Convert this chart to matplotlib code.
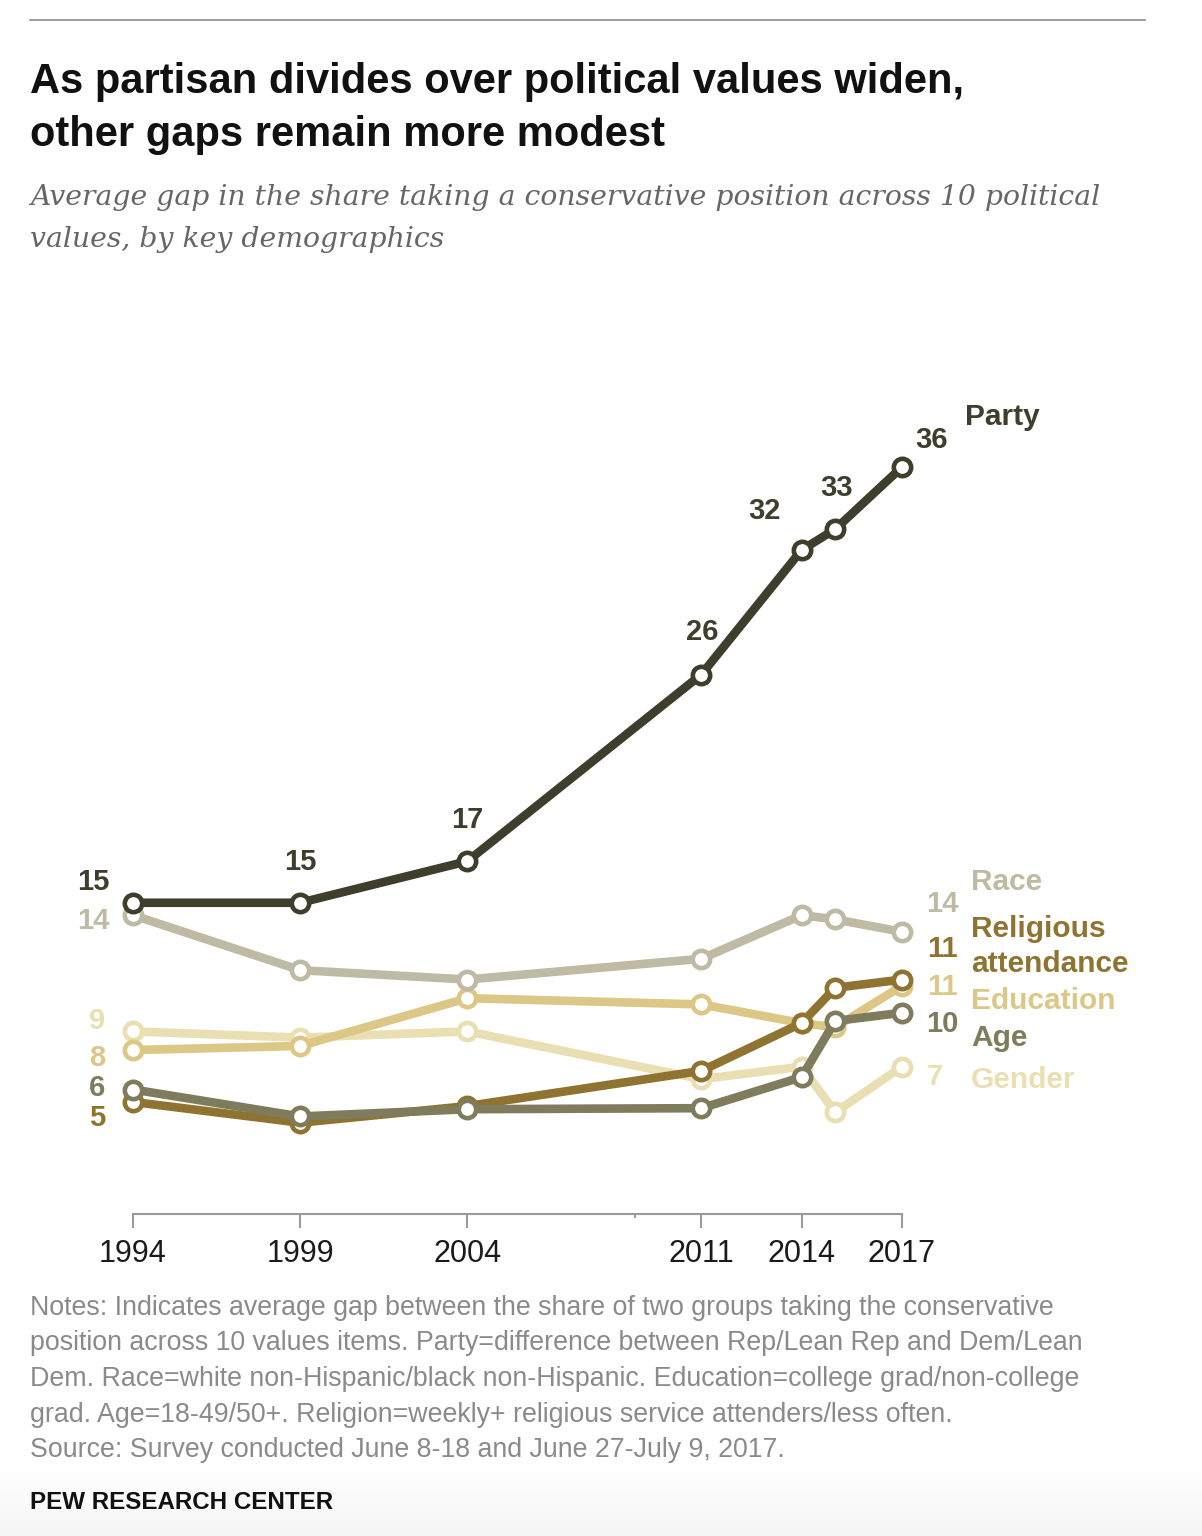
import numpy as np
import matplotlib
matplotlib.use("Agg")
import matplotlib.pyplot as plt

## ================= DATA ================= ##
years = [1994, 1999, 2004, 2011, 2014, 2015, 2017]
tick_years = [1994, 1999, 2004, 2011, 2014, 2017]

party = [15, 15, 17, 26, 32, 33, 36]
race = [14.4, 11.75, 11.3, 12.3, 14.4, 14.2, 13.6]
religious = [5.4, 4.4, 5.2, 6.9, 9.2, 10.9, 11.3]
education = [7.9, 8.1, 10.4, 10.1, 9.2, 9.0, 11.0]
gender = [8.8, 8.5, 8.8, 6.5, 7.1, 4.9, 7.1]
age = [6.0, 4.7, 5.05, 5.1, 6.6, 9.3, 9.7]

party_labels = ["15", "15", "17", "26", "32", "33", "36"]

# (name, values, colour, start label, end label)
series = [
    ("Gender", gender, "#e9dfb3", "9", "7"),
    ("Education", education, "#dcc786", "8", "11"),
    ("Race", race, "#bebaa4", "14", "14"),
    ("Religious\nattendance", religious, "#8f7431", "5", "11"),
    ("Age", age, "#7f7b5d", "6", "10"),
]
party_color = "#3f3d2b"

## ================= LAYOUT ================= ##
W, H = 1202, 1536
# pixel offsets (x right, y up) for labels
start_off = {"Gender": (-36, 10), "Education": (-36, -8), "Race": (-40, -6),
             "Religious\nattendance": (-36, -16), "Age": (-36, 2)}
end_off = {"Gender": (33, -10), "Education": (40, -1), "Race": (40, 28),
           "Religious\nattendance": (40, 31), "Age": (40, -11)}
name_off = {"Gender": (69, -13), "Education": (69, -15), "Race": (69, 50),
            "Religious\nattendance": (69, 33), "Age": (69, -25)}
party_off = [(-40, 21), (0, 41), (0, 41), (1, 42), (-37, 39), (1, 41), (30, 27)]

plt.rcParams['font.family'] = ['Liberation Sans', 'DejaVu Sans']

fig = plt.figure(figsize=(W / 100, H / 100), dpi=100)
fig.patch.set_facecolor("white")


def fx(x):
    return x / W


def fy(y):
    return 1 - y / H


# faint shading at the bottom
bg = fig.add_axes([0, 0, 1, 70 / H], zorder=-5)
grad = np.linspace(0, 1, 100).reshape(-1, 1)
bg.imshow(grad, aspect="auto", cmap="Greys", vmin=0, vmax=12,
          extent=[0, 1, 0, 1], origin="upper")
bg.axis("off")

# top rule
fig.add_artist(plt.Line2D([fx(30), fx(1145)], [fy(20), fy(20)],
                          color="#8c8c8c", lw=1.2))

# title and subtitle
fig.text(fx(30), fy(93), "As partisan divides over political values widen,",
         fontsize=30, weight="bold", color="#111111", va="baseline")
fig.text(fx(30), fy(146), "other gaps remain more modest",
         fontsize=30, weight="bold", color="#111111", va="baseline")
fig.text(fx(30), fy(205),
         "Average gap in the share taking a conservative position across 10 political",
         fontsize=20.3, style="italic", family="DejaVu Serif", color="#666666",
         va="baseline")
fig.text(fx(30), fy(247), "values, by key demographics",
         fontsize=20.3, style="italic", family="DejaVu Serif", color="#666666",
         va="baseline")

# ---------- chart ----------
ax = fig.add_axes([fx(133), fy(1214), (902 - 133) / W, (1214 - 467) / H])
ax.set_xlim(1994, 2017)
ax.set_ylim(0, 36)
ax.patch.set_alpha(0)
for s in ["top", "right", "left"]:
    ax.spines[s].set_visible(False)
ax.spines["bottom"].set_color("#9a9a9a")
ax.spines["bottom"].set_linewidth(1.5)
ax.set_yticks([])
ax.set_xticks(tick_years)
ax.set_xticklabels([str(y) for y in tick_years])
ax.set_xticks([2009], minor=True)
ax.tick_params(axis="x", which="major", length=10, width=1.5, color="#9a9a9a",
               labelsize=22, labelcolor="#1a1a1a", pad=8)
ax.tick_params(axis="x", which="minor", length=3, width=1.5, color="#9a9a9a")

mk = dict(marker="o", markersize=12.5, markerfacecolor="white", markeredgewidth=3.3)
for z, (name, vals, col, s_lab, e_lab) in enumerate(series):
    ax.plot(years, vals, color=col, lw=6.2, markeredgecolor=col, clip_on=False,
            zorder=2 + z, solid_joinstyle="round", **mk)
    ax.annotate(s_lab, (years[0], vals[0]), xytext=start_off[name],
                textcoords="offset pixels", ha="center", va="center",
                fontsize=21, weight="bold", color=col)
    ax.annotate(e_lab, (years[-1], vals[-1]), xytext=end_off[name],
                textcoords="offset pixels", ha="center", va="center",
                fontsize=21, weight="bold", color=col)
    ax.annotate(name, (years[-1], vals[-1]), xytext=name_off[name],
                textcoords="offset pixels", ha="left", va="center",
                fontsize=21.5, weight="bold", color=col, linespacing=1.3)

ax.plot(years, party, color=party_color, lw=6.2, markeredgecolor=party_color,
        clip_on=False, zorder=10, solid_joinstyle="round", **mk)
for x, v, lab, off in zip(years, party, party_labels, party_off):
    ax.annotate(lab, (x, v), xytext=off, textcoords="offset pixels",
                ha="center", va="center", fontsize=21, weight="bold",
                color=party_color)
ax.annotate("Party", (years[-1], party[-1]), xytext=(63, 50),
            textcoords="offset pixels", ha="left", va="center",
            fontsize=21.5, weight="bold", color=party_color)

# ---------- notes ----------
notes = [
    "Notes: Indicates average gap between the share of two groups taking the conservative",
    "position across 10 values items. Party=difference between Rep/Lean Rep and Dem/Lean",
    "Dem. Race=white non-Hispanic/black non-Hispanic. Education=college grad/non-college",
    "grad. Age=18-49/50+. Religion=weekly+ religious service attenders/less often.",
    "Source: Survey conducted June 8-18 and June 27-July 9, 2017.",
]
for i, line in enumerate(notes):
    fig.text(fx(30), fy(1315 + i * 35.5), line, fontsize=19.3, color="#8a8a8a",
             va="baseline")

fig.text(fx(30), fy(1509), "PEW RESEARCH CENTER", fontsize=17.4, weight="bold",
         color="#111111", va="baseline")

fig.savefig("out.png", dpi=100, facecolor="white")
